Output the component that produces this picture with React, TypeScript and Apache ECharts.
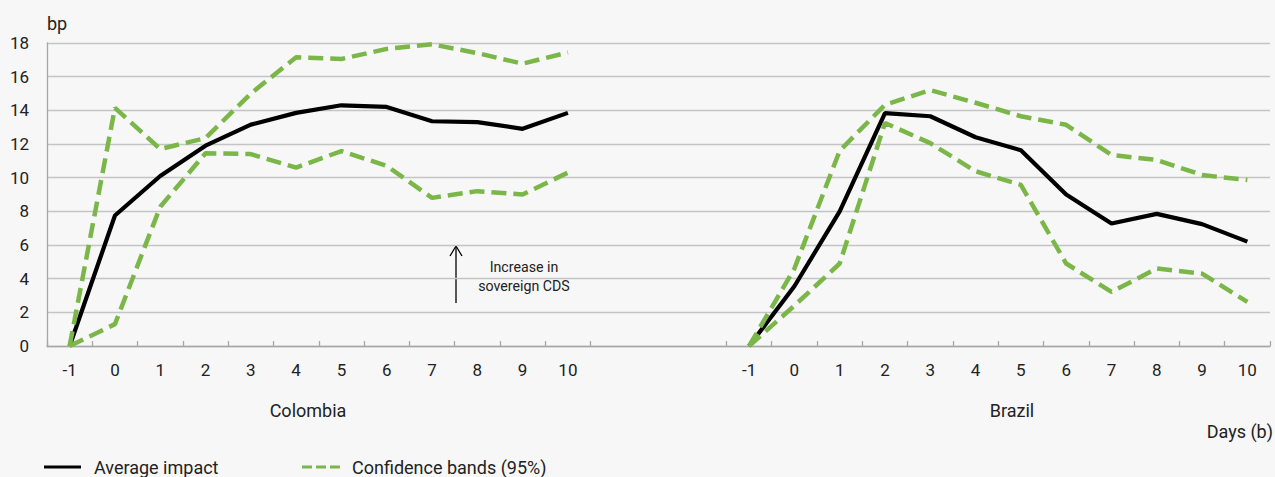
import React, { useEffect, useRef } from "react";
import * as echarts from "echarts";

const days = ["-1", "0", "1", "2", "3", "4", "5", "6", "7", "8", "9", "10"];
const gapCount = 3;

const colombiaAvg = [0, 7.75, 10.1, 11.9, 13.15, 13.85, 14.3, 14.2, 13.35, 13.3, 12.9, 13.85];
const colombiaUpper = [0, 14.15, 11.7, 12.35, 15.0, 17.15, 17.05, 17.65, 17.92, 17.4, 16.77, 17.44];
const colombiaLower = [0, 1.3, 8.27, 11.45, 11.4, 10.6, 11.58, 10.7, 8.8, 9.2, 9.0, 10.3];

const brazilAvg = [0, 3.55, 8.0, 13.83, 13.65, 12.4, 11.63, 9.0, 7.28, 7.85, 7.24, 6.2];
const brazilUpper = [0, 4.6, 11.6, 14.33, 15.2, 14.45, 13.65, 13.14, 11.35, 11.05, 10.16, 9.86];
const brazilLower = [0, 2.4, 4.9, 13.25, 12.05, 10.38, 9.57, 4.9, 3.21, 4.6, 4.3, 2.62];

const yTicks = { min: 0, max: 18, interval: 2 };

const GREEN = "#7ab648";
const FONT = "Roboto";
const TEXT = "#222";

function join(a: (number | null)[], b: (number | null)[]) {
  const gap: (number | null)[] = new Array(gapCount).fill(null);
  return [...a, ...gap, ...b];
}

function label(text: string, x: number, y: number, align: string, size = 18) {
  return {
    type: "text",
    x,
    y,
    style: { text, fontSize: size, fontFamily: FONT, fill: TEXT, align, verticalAlign: "middle" },
  };
}

export default function App() {
  const ref = useRef<HTMLDivElement>(null);

  useEffect(() => {
    if (!ref.current) return;
    const chart = echarts.init(ref.current, undefined, { renderer: "svg" });
    const categories = [...days, ...new Array(gapCount).fill(""), ...days];
    const avg = join(colombiaAvg, brazilAvg);
    const upper = join(colombiaUpper, brazilUpper);
    const lower = join(colombiaLower, brazilLower);
    const hiddenTicks = new Set([days.length + 1, days.length + 2]);

    const dashStyle = { color: GREEN, width: 4.5, type: [15, 7] as any };

    chart.setOption({
      animation: false,
      backgroundColor: "#f7f7f7",
      textStyle: { fontFamily: FONT },
      grid: { left: 47, right: 5, top: 43, bottom: 131 },
      xAxis: {
        type: "category",
        data: categories,
        boundaryGap: true,
        axisLine: { show: true, lineStyle: { color: "#a6a6a6", width: 1.3 } },
        axisTick: {
          show: true,
          inside: true,
          length: 5,
          interval: (i: number) => !hiddenTicks.has(i),
          lineStyle: { color: "#a6a6a6", width: 1.3 },
        },
        axisLabel: { interval: 0, fontSize: 17, color: TEXT, margin: 15, fontFamily: FONT },
        splitLine: { show: false },
      },
      yAxis: {
        type: "value",
        min: yTicks.min,
        max: yTicks.max,
        interval: yTicks.interval,
        axisLine: { show: true, lineStyle: { color: "#a6a6a6", width: 1.3 } },
        axisTick: { show: false },
        axisLabel: { fontSize: 17, color: TEXT, margin: 18, fontFamily: FONT },
        splitLine: { lineStyle: { color: "#c4c4c4", width: 1.3 } },
      },
      legend: { show: false },
      series: [
        {
          name: "Average impact",
          type: "line",
          data: avg,
          symbol: "none",
          lineStyle: { color: "#000", width: 4.2 },
          itemStyle: { color: "#000" },
          z: 2,
        },
        {
          name: "Confidence bands (95%)",
          type: "line",
          data: upper,
          symbol: "none",
          lineStyle: dashStyle,
          itemStyle: { color: GREEN },
          z: 3,
        },
        {
          name: "Confidence bands (95%)",
          type: "line",
          data: lower,
          symbol: "none",
          lineStyle: dashStyle,
          itemStyle: { color: GREEN },
          z: 3,
        },
      ],
      graphic: [
        label("bp", 47, 23, "left"),
        label("Colombia", 308, 410, "center"),
        label("Brazil", 1012, 410, "center"),
        label("Days (b)", 1273, 431, "right"),
        {
          type: "line",
          shape: { x1: 456, y1: 303, x2: 456, y2: 246 },
          style: { stroke: "#000", lineWidth: 1.3 },
        },
        {
          type: "polyline",
          shape: { points: [[450, 256], [456, 246], [462, 256]] },
          style: { stroke: "#000", lineWidth: 1.3, fill: "none" },
        },
        label("Increase in", 524, 267, "center", 14.2),
        label("sovereign CDS", 524, 286, "center", 14.2),
        // legend
        {
          type: "line",
          shape: { x1: 44, y1: 467, x2: 81, y2: 467 },
          style: { stroke: "#000", lineWidth: 3 },
        },
        label("Average impact", 94, 467, "left"),
        {
          type: "line",
          shape: { x1: 302, y1: 467, x2: 340, y2: 467 },
          style: { stroke: GREEN, lineWidth: 3, lineDash: [10, 4] },
        },
        label("Confidence bands (95%)", 352, 467, "left"),
      ],
    });
    return () => chart.dispose();
  }, []);

  return (
    <div
      ref={ref}
      style={{ position: "fixed", left: 0, top: 0, width: 1275, height: 477 }}
    />
  );
}
